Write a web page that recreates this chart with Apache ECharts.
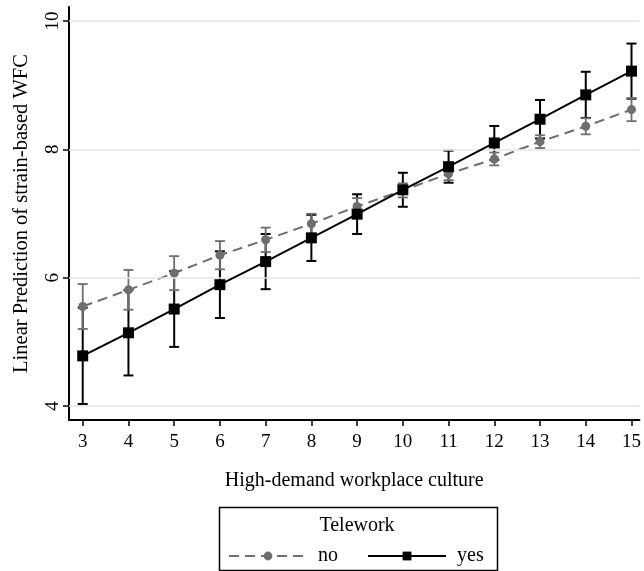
<!DOCTYPE html>
<html><head><meta charset="utf-8">
<script src="https://cdn.jsdelivr.net/npm/echarts@6/dist/echarts.min.js"></script>
<style>html,body{margin:0;padding:0;background:#fff}#c{width:644px;height:571px}</style>
</head><body><div id="c"></div>
<script>
// ---- data ----
const xValues = [3, 4, 5, 6, 7, 8, 9, 10, 11, 12, 13, 14, 15];
const noMean  = [5.55, 5.81, 6.07, 6.35, 6.59, 6.84, 7.11, 7.36, 7.62, 7.85, 8.12, 8.36, 8.62];
const noCI    = [0.35, 0.31, 0.265, 0.22, 0.19, 0.155, 0.13, 0.11, 0.10, 0.10, 0.10, 0.125, 0.18];
const yesMean = [4.78, 5.14, 5.51, 5.89, 6.25, 6.62, 6.99, 7.37, 7.73, 8.10, 8.47, 8.85, 9.22];
const yesCI   = [0.75, 0.665, 0.59, 0.52, 0.43, 0.36, 0.31, 0.265, 0.25, 0.265, 0.30, 0.36, 0.43];
const xTicks = [3, 4, 5, 6, 7, 8, 9, 10, 11, 12, 13, 14, 15];
const yTicks = [4, 6, 8, 10];
const seriesNames = ['no', 'yes'];
const legendTitle = 'Telework';
const xTitle = 'High-demand workplace culture';
const yTitle = 'Linear Prediction of strain-based WFC';

const FONT = "'Liberation Serif', 'DejaVu Serif', serif";
const GREY = '#6e6e6e';

function ciData(mean, ci) {
  return xValues.map((x, i) => [x, mean[i] - ci[i], mean[i] + ci[i]]);
}
function ciRender(color, width, capHalf) {
  return function (params, api) {
    const x = api.value(0);
    const lo = api.coord([x, api.value(1)]);
    const hi = api.coord([x, api.value(2)]);
    const st = { stroke: color, lineWidth: width, fill: null };
    return {
      type: 'group',
      children: [
        { type: 'line', shape: { x1: lo[0], y1: lo[1], x2: hi[0], y2: hi[1] }, style: st },
        { type: 'line', shape: { x1: lo[0] - capHalf, y1: lo[1], x2: lo[0] + capHalf, y2: lo[1] }, style: st },
        { type: 'line', shape: { x1: hi[0] - capHalf, y1: hi[1], x2: hi[0] + capHalf, y2: hi[1] }, style: st }
      ]
    };
  };
}

const chart = echarts.init(document.getElementById('c'), null, { renderer: 'canvas' });
chart.setOption({
  animation: false,
  backgroundColor: '#fff',
  textStyle: { fontFamily: FONT },
  grid: { left: 69, right: 0, top: 7, bottom: 151, containLabel: false },
  xAxis: {
    type: 'value', min: 2.7, max: 15.174,
    axisLine: { show: true, onZero: false, lineStyle: { color: '#000', width: 2 } },
    axisTick: { show: true, customValues: xTicks, length: 6, lineStyle: { color: '#000', width: 1.5 } },
    axisLabel: { customValues: xTicks, color: '#000', fontSize: 19, fontFamily: FONT, margin: 13 },
    splitLine: { show: false },
    name: xTitle, nameLocation: 'middle', nameGap: 51,
    nameTextStyle: { color: '#000', fontSize: 20, fontFamily: FONT }
  },
  yAxis: {
    type: 'value', min: 3.78, max: 10.22,
    axisLine: { show: true, onZero: false, lineStyle: { color: '#000', width: 2 } },
    axisTick: { show: true, customValues: yTicks, length: 6, lineStyle: { color: '#000', width: 1.5 } },
    axisLabel: { customValues: yTicks, rotate: 90, color: '#000', fontSize: 19, fontFamily: FONT, margin: 6 },
    splitLine: { show: false },
    name: yTitle, nameLocation: 'middle', nameRotate: 90, nameGap: 37,
    nameTextStyle: { color: '#000', fontSize: 20.5, fontFamily: FONT }
  },
  legend: {
    data: seriesNames,
    left: 223, top: 541,
    itemWidth: 78, itemHeight: 11, itemGap: 29,
    textStyle: { color: '#000', fontSize: 20, fontFamily: FONT, padding: [0, 0, 0, 6] },
    selectedMode: false
  },
  graphic: [
    { type: 'rect', left: 217, top: 505, shape: { width: 278, height: 63 },
      style: { fill: null, stroke: '#000', lineWidth: 1.5 }, silent: true },
    { type: 'text', x: 357, y: 526, silent: true,
      style: { text: legendTitle, fill: '#000', font: '20px ' + FONT, textAlign: 'center', textVerticalAlign: 'middle' } }
  ],
  series: [
    {
      name: 'gridlines', type: 'line', data: [], silent: true, z: 0,
      markLine: {
        silent: true, symbol: ['none', 'none'], label: { show: false },
        lineStyle: { color: '#e6e6e6', width: 1.5, type: 'solid' },
        data: yTicks.map(v => ({ yAxis: v }))
      }
    },
    { name: 'ciYes', type: 'custom', z: 2, data: ciData(yesMean, yesCI),
      renderItem: ciRender('#000', 2, 5), encode: { x: 0, y: [1, 2] } },
    { name: 'ciNo', type: 'custom', z: 3, data: ciData(noMean, noCI),
      renderItem: ciRender(GREY, 1.8, 5), encode: { x: 0, y: [1, 2] } },
    { name: 'no', type: 'line', z: 4, data: xValues.map((x, i) => [x, noMean[i]]),
      symbol: 'circle', symbolSize: 9, itemStyle: { color: GREY },
      lineStyle: { color: GREY, width: 2, type: [10, 6] } },
    { name: 'yes', type: 'line', z: 5, data: xValues.map((x, i) => [x, yesMean[i]]),
      symbol: 'rect', symbolSize: 11, itemStyle: { color: '#000' },
      lineStyle: { color: '#000', width: 2, type: 'solid' } }
  ]
});
</script>
</body></html>
